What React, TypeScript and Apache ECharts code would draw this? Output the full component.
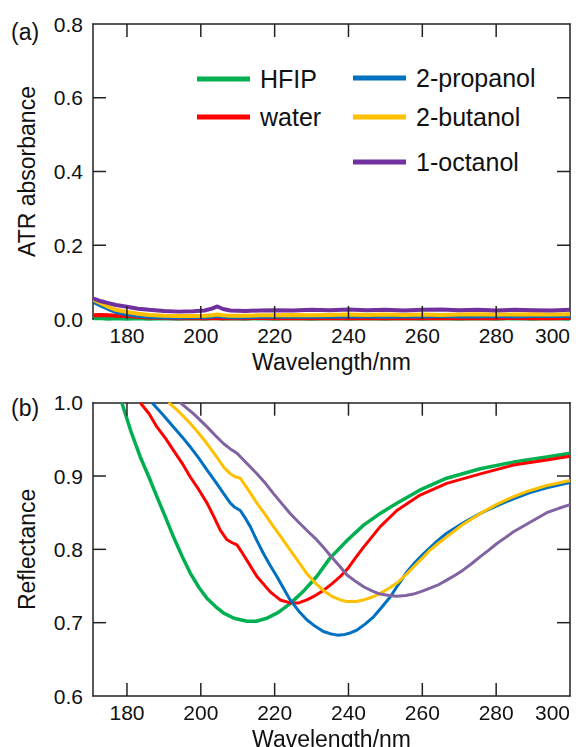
import React, { useEffect, useRef } from "react";
import * as echarts from "echarts";

const FONT = "'Liberation Sans', Arial, Helvetica, sans-serif";
const X_MIN = 170.8;
const X_MAX = 300;
const X_STEP = 20;
const X_NAME = "Wavelength/nm";
const X_TICKS = [180, 200, 220, 240, 260, 280];
const A_Y_TICKS = [0.2, 0.4, 0.6];
const B_Y_TICKS = [0.7, 0.8, 0.9];

const NAMES = ["HFIP", "water", "2-propanol", "2-butanol", "1-octanol"];
const COLORS_A = ["#00b050", "#ff0000", "#0070c0", "#ffc000", "#7030a0"];
const COLORS_B = ["#00b050", "#ff0000", "#0070c0", "#ffc000", "#8064a2"];

// Panel (a): ATR absorbance
const A_X = [171, 173, 175, 177, 180, 183, 186, 190, 194, 198, 201, 203, 204.5, 206, 208, 212, 216, 220, 225, 230, 235, 240, 245, 250, 255, 260, 265, 270, 275, 280, 285, 290, 295, 300];
const A_HFIP = [0.002, 0.002, 0.001, 0.002, 0.001, 0.002, 0.001, 0.002, 0.001, 0.002, 0.001, 0.002, 0.002, 0.001, 0.002, 0.001, 0.002, 0.001, 0.002, 0.001, 0.002, 0.001, 0.002, 0.001, 0.002, 0.001, 0.002, 0.001, 0.002, 0.001, 0.002, 0.001, 0.002, 0.001];
const A_WATER = [0.010, 0.011, 0.010, 0.009, 0.008, 0.006, 0.004, 0.003, 0.002, 0.002, 0.002, 0.002, 0.003, 0.002, 0.002, 0.002, 0.003, 0.002, 0.002, 0.003, 0.002, 0.002, 0.003, 0.002, 0.002, 0.003, 0.002, 0.003, 0.002, 0.002, 0.003, 0.002, 0.002, 0.003];
const A_PROPANOL = [0.046, 0.036, 0.027, 0.019, 0.013, 0.009, 0.006, 0.004, 0.004, 0.005, 0.005, 0.006, 0.008, 0.006, 0.005, 0.005, 0.006, 0.006, 0.006, 0.007, 0.006, 0.007, 0.007, 0.006, 0.007, 0.007, 0.008, 0.007, 0.007, 0.008, 0.007, 0.008, 0.008, 0.008];
const A_BUTANOL = [0.052, 0.042, 0.033, 0.025, 0.019, 0.014, 0.011, 0.009, 0.008, 0.008, 0.009, 0.010, 0.012, 0.010, 0.009, 0.009, 0.010, 0.010, 0.011, 0.010, 0.011, 0.012, 0.011, 0.012, 0.011, 0.012, 0.011, 0.012, 0.013, 0.012, 0.012, 0.013, 0.012, 0.013];
const A_OCTANOL = [0.055, 0.048, 0.043, 0.038, 0.033, 0.028, 0.025, 0.022, 0.020, 0.021, 0.023, 0.028, 0.034, 0.027, 0.023, 0.022, 0.023, 0.024, 0.023, 0.025, 0.024, 0.026, 0.024, 0.025, 0.023, 0.025, 0.026, 0.024, 0.025, 0.023, 0.025, 0.024, 0.023, 0.025];

// Panel (b): Reflectance
const B_HFIP_X = [178.6, 181, 183.6, 186, 188.1, 190.5, 192.6, 195, 197.1, 199.5, 201.7, 204, 206.2, 209, 212.5, 215, 217.9, 221, 224.2, 228, 231.4, 235, 239.6, 244.1, 248.6, 253.1, 259.4, 266.6, 275.7, 284.7, 293.7, 300];
const B_HFIP_Y = [1.0, 0.962, 0.926, 0.898, 0.872, 0.843, 0.817, 0.79, 0.768, 0.748, 0.733, 0.722, 0.713, 0.706, 0.702, 0.702, 0.706, 0.714, 0.726, 0.744, 0.763, 0.788, 0.812, 0.833, 0.849, 0.863, 0.881, 0.897, 0.91, 0.919, 0.926, 0.931];

const B_WATER_X = [183.6, 186, 188.1, 190.5, 192.6, 195, 197.1, 199.5, 201.7, 203.5, 205.3, 207.1, 208.5, 209.8, 211, 212.5, 215.2, 218.8, 221.5, 224.2, 226.5, 228.7, 231, 233.2, 235.5, 237.8, 240, 242, 244.1, 248.6, 253.1, 259.4, 266.6, 275.7, 284.7, 293.7, 300];
const B_WATER_Y = [1.0, 0.985, 0.967, 0.951, 0.935, 0.917, 0.899, 0.881, 0.863, 0.845, 0.826, 0.813, 0.809, 0.806, 0.797, 0.785, 0.763, 0.742, 0.731, 0.727, 0.727, 0.731, 0.737, 0.744, 0.753, 0.763, 0.775, 0.789, 0.803, 0.831, 0.853, 0.874, 0.89, 0.903, 0.915, 0.922, 0.927];

const B_PROPANOL_X = [186.8, 189.5, 192.6, 195, 197.1, 199.5, 201.7, 204, 206.2, 208, 209.3, 210.7, 212, 213.4, 215.2, 217, 218.8, 220.6, 222.4, 224.2, 226.5, 228.7, 231, 233.2, 235, 237, 239, 240.5, 242.3, 244.5, 246.8, 249, 251.3, 253.5, 255.8, 258, 260.3, 263.5, 266.6, 271, 275.7, 280, 284.7, 289, 293.7, 300];
const B_PROPANOL_Y = [1.0, 0.985, 0.967, 0.953, 0.94, 0.924, 0.908, 0.892, 0.876, 0.863, 0.857, 0.853, 0.843, 0.831, 0.812, 0.794, 0.778, 0.763, 0.747, 0.731, 0.716, 0.704, 0.695, 0.688, 0.685, 0.683, 0.684, 0.686, 0.69, 0.698, 0.708, 0.721, 0.735, 0.752, 0.769, 0.782, 0.794, 0.809, 0.822, 0.836, 0.849, 0.859, 0.869, 0.877, 0.884, 0.891];

const B_BUTANOL_X = [191.3, 194, 197.1, 199.5, 201.7, 204, 206.2, 208, 209.3, 210.7, 213, 215.2, 217.5, 219.7, 222, 224.2, 226.5, 228.7, 231, 233.2, 235.5, 237.8, 239.6, 242, 244.1, 246.5, 248.6, 251, 253.1, 255.5, 257.6, 260, 262.1, 264.5, 266.6, 271, 275.7, 280, 284.7, 289, 293.7, 300];
const B_BUTANOL_Y = [1.0, 0.988, 0.972, 0.958, 0.944, 0.928, 0.912, 0.903, 0.899, 0.897, 0.88, 0.863, 0.847, 0.831, 0.815, 0.799, 0.783, 0.767, 0.754, 0.744, 0.736, 0.731, 0.729, 0.729, 0.731, 0.735, 0.74, 0.747, 0.754, 0.765, 0.776, 0.788, 0.799, 0.809, 0.817, 0.834, 0.849, 0.861, 0.872, 0.88, 0.887, 0.894];

const B_OCTANOL_X = [194.4, 198, 201.7, 204, 206.2, 208, 209.8, 212.5, 215.2, 217.5, 219.7, 222, 224.2, 226.5, 228.7, 231, 233.2, 235, 237.8, 239.6, 242, 244.1, 246.5, 248.6, 251, 253.1, 255.5, 257.6, 260, 262.1, 264.5, 266.6, 269, 271.1, 273.5, 275.7, 278, 280.2, 282.5, 284.7, 289.2, 293.7, 297, 300];
const B_OCTANOL_Y = [1.0, 0.985, 0.967, 0.955, 0.944, 0.937, 0.931, 0.917, 0.903, 0.89, 0.876, 0.862, 0.849, 0.837, 0.826, 0.815, 0.803, 0.792, 0.776, 0.765, 0.756, 0.749, 0.743, 0.739, 0.737, 0.736, 0.737, 0.739, 0.743, 0.747, 0.752, 0.758, 0.765, 0.772, 0.781, 0.79, 0.799, 0.808, 0.816, 0.824, 0.837, 0.85, 0.856, 0.861];

const A_SERIES = [A_HFIP, A_WATER, A_PROPANOL, A_BUTANOL, A_OCTANOL];
const B_SERIES_X = [B_HFIP_X, B_WATER_X, B_PROPANOL_X, B_BUTANOL_X, B_OCTANOL_X];
const B_SERIES_Y = [B_HFIP_Y, B_WATER_Y, B_PROPANOL_Y, B_BUTANOL_Y, B_OCTANOL_Y];

const AXIS_COLOR = "#222";
const TICK_LEN = 13;
const mkLine = () => ({ show: true, onZero: false, lineStyle: { color: AXIS_COLOR, width: 1.5 } });

function xAxes() {
  const common = {
    type: "value",
    min: X_MIN,
    max: X_MAX,
    minInterval: X_STEP,
    maxInterval: X_STEP,
    splitNumber: 6,
    splitLine: { show: false },
    axisTick: { show: false },
  };
  return [
    {
      ...common,
      position: "bottom",
      axisLine: mkLine(),
      axisLabel: {
        show: true,
        showMinLabel: false,
        color: "#111",
        fontSize: 21,
        fontFamily: FONT,
        margin: 6,
        alignMaxLabel: "right",
      },
      name: X_NAME,
      nameLocation: "middle",
      nameGap: 28,
      nameTextStyle: { color: "#111", fontSize: 23, fontFamily: FONT },
    },
    { ...common, position: "top", axisLine: mkLine(), axisLabel: { show: false } },
  ];
}

function yAxes(min: number, max: number, interval: number, name: string) {
  const common = { type: "value", min, max, interval, splitLine: { show: false }, axisTick: { show: false } };
  return [
    {
      ...common,
      position: "left",
      axisLine: mkLine(),
      axisLabel: {
        show: true,
        color: "#111",
        fontSize: 21,
        fontFamily: FONT,
        margin: 10,
        formatter: (v: number) => v.toFixed(1),
      },
      name,
      nameLocation: "middle",
      nameGap: 55,
      nameTextStyle: { color: "#111", fontSize: 23, fontFamily: FONT },
    },
    { ...common, position: "right", axisLine: mkLine(), axisLabel: { show: false } },
  ];
}

// Inward ticks on all four sides, placed through the axes' own scales
function tickSeries(yMin: number, yMax: number, yTicks: number[]) {
  const data = [...X_TICKS.map((v) => [0, v]), ...yTicks.map((v) => [1, v])];
  return {
    type: "custom",
    silent: true,
    z: 20,
    clip: false,
    data,
    renderItem: (_params: any, api: any) => {
      const kind = api.value(0);
      const v = api.value(1);
      const style = { stroke: AXIS_COLOR, lineWidth: 1.5 };
      if (kind === 0) {
        const a = api.coord([v, yMin]);
        const b = api.coord([v, yMax]);
        return {
          type: "group",
          children: [
            { type: "line", shape: { x1: a[0], y1: a[1], x2: a[0], y2: a[1] - TICK_LEN }, style },
            { type: "line", shape: { x1: b[0], y1: b[1], x2: b[0], y2: b[1] + TICK_LEN }, style },
          ],
        };
      }
      const a = api.coord([X_MIN, v]);
      const b = api.coord([X_MAX, v]);
      return {
        type: "group",
        children: [
          { type: "line", shape: { x1: a[0], y1: a[1], x2: a[0] + TICK_LEN, y2: a[1] }, style },
          { type: "line", shape: { x1: b[0], y1: b[1], x2: b[0] - TICK_LEN, y2: b[1] }, style },
        ],
      };
    },
  };
}

const legendBase = {
  orient: "vertical",
  padding: 0,
  itemWidth: 53,
  itemHeight: 5,
  icon: "rect",
  selectedMode: false,
  textStyle: { fontSize: 25, fontFamily: FONT, color: "#111", padding: [0, 0, 0, 5] },
};

function optionA() {
  return {
    animation: false,
    grid: { left: 93, right: 11, top: 24, height: 295, outerBoundsMode: "none", containLabel: false },
    xAxis: xAxes(),
    yAxis: yAxes(0, 0.8, 0.2, "ATR absorbance"),
    legend: [
      { ...legendBase, left: 197, top: 66.5, itemGap: 13, data: ["HFIP", "water"] },
      { ...legendBase, left: 353, top: 65.5, itemGap: 14, data: ["2-propanol", "2-butanol"] },
      { ...legendBase, left: 353, top: 149.5, itemGap: 13, data: ["1-octanol"] },
    ],
    graphic: [{ type: "text", left: 11, top: 20, style: { text: "(a)", fontSize: 23, fontFamily: FONT, fill: "#111" } }],
    series: [
      ...NAMES.map((name, i) => ({
        type: "line",
        name,
        showSymbol: false,
        symbol: "none",
        data: A_X.map((x, j) => [x, A_SERIES[i][j]]),
        lineStyle: { color: COLORS_A[i], width: 4 },
        itemStyle: { color: COLORS_A[i] },
        z: 2 + i,
      })),
      tickSeries(0, 0.8, A_Y_TICKS),
    ],
  };
}

function optionB() {
  return {
    animation: false,
    grid: { left: 93, right: 11, top: 27.7, height: 293.3, outerBoundsMode: "none", containLabel: false },
    xAxis: xAxes(),
    yAxis: yAxes(0.6, 1.0, 0.1, "Reflectance"),
    graphic: [{ type: "text", left: 11, top: 21, style: { text: "(b)", fontSize: 23, fontFamily: FONT, fill: "#111" } }],
    series: [
      ...NAMES.map((name, i) => ({
        type: "line",
        name,
        showSymbol: false,
        symbol: "none",
        data: B_SERIES_X[i].map((x, j) => [x, B_SERIES_Y[i][j]]),
        lineStyle: { color: COLORS_B[i], width: i === 0 ? 3.5 : 3 },
        itemStyle: { color: COLORS_B[i] },
        z: 2 + i,
      })),
      tickSeries(0.6, 1.0, B_Y_TICKS),
    ],
  };
}

function Panel({ build, top, height }: { build: () => any; top: number; height: number }) {
  const ref = useRef<HTMLDivElement>(null);
  useEffect(() => {
    if (!ref.current) return;
    const chart = echarts.init(ref.current, undefined, { renderer: "svg" });
    chart.setOption(build());
    return () => chart.dispose();
  }, []);
  return <div ref={ref} style={{ position: "absolute", left: 0, top, width: 581, height }} />;
}

export default function App() {
  return (
    <div style={{ position: "fixed", left: 0, top: 0, width: 581, height: 747, background: "#fff" }}>
      <Panel build={optionA} top={0} height={400} />
      <Panel build={optionB} top={375} height={430} />
    </div>
  );
}
